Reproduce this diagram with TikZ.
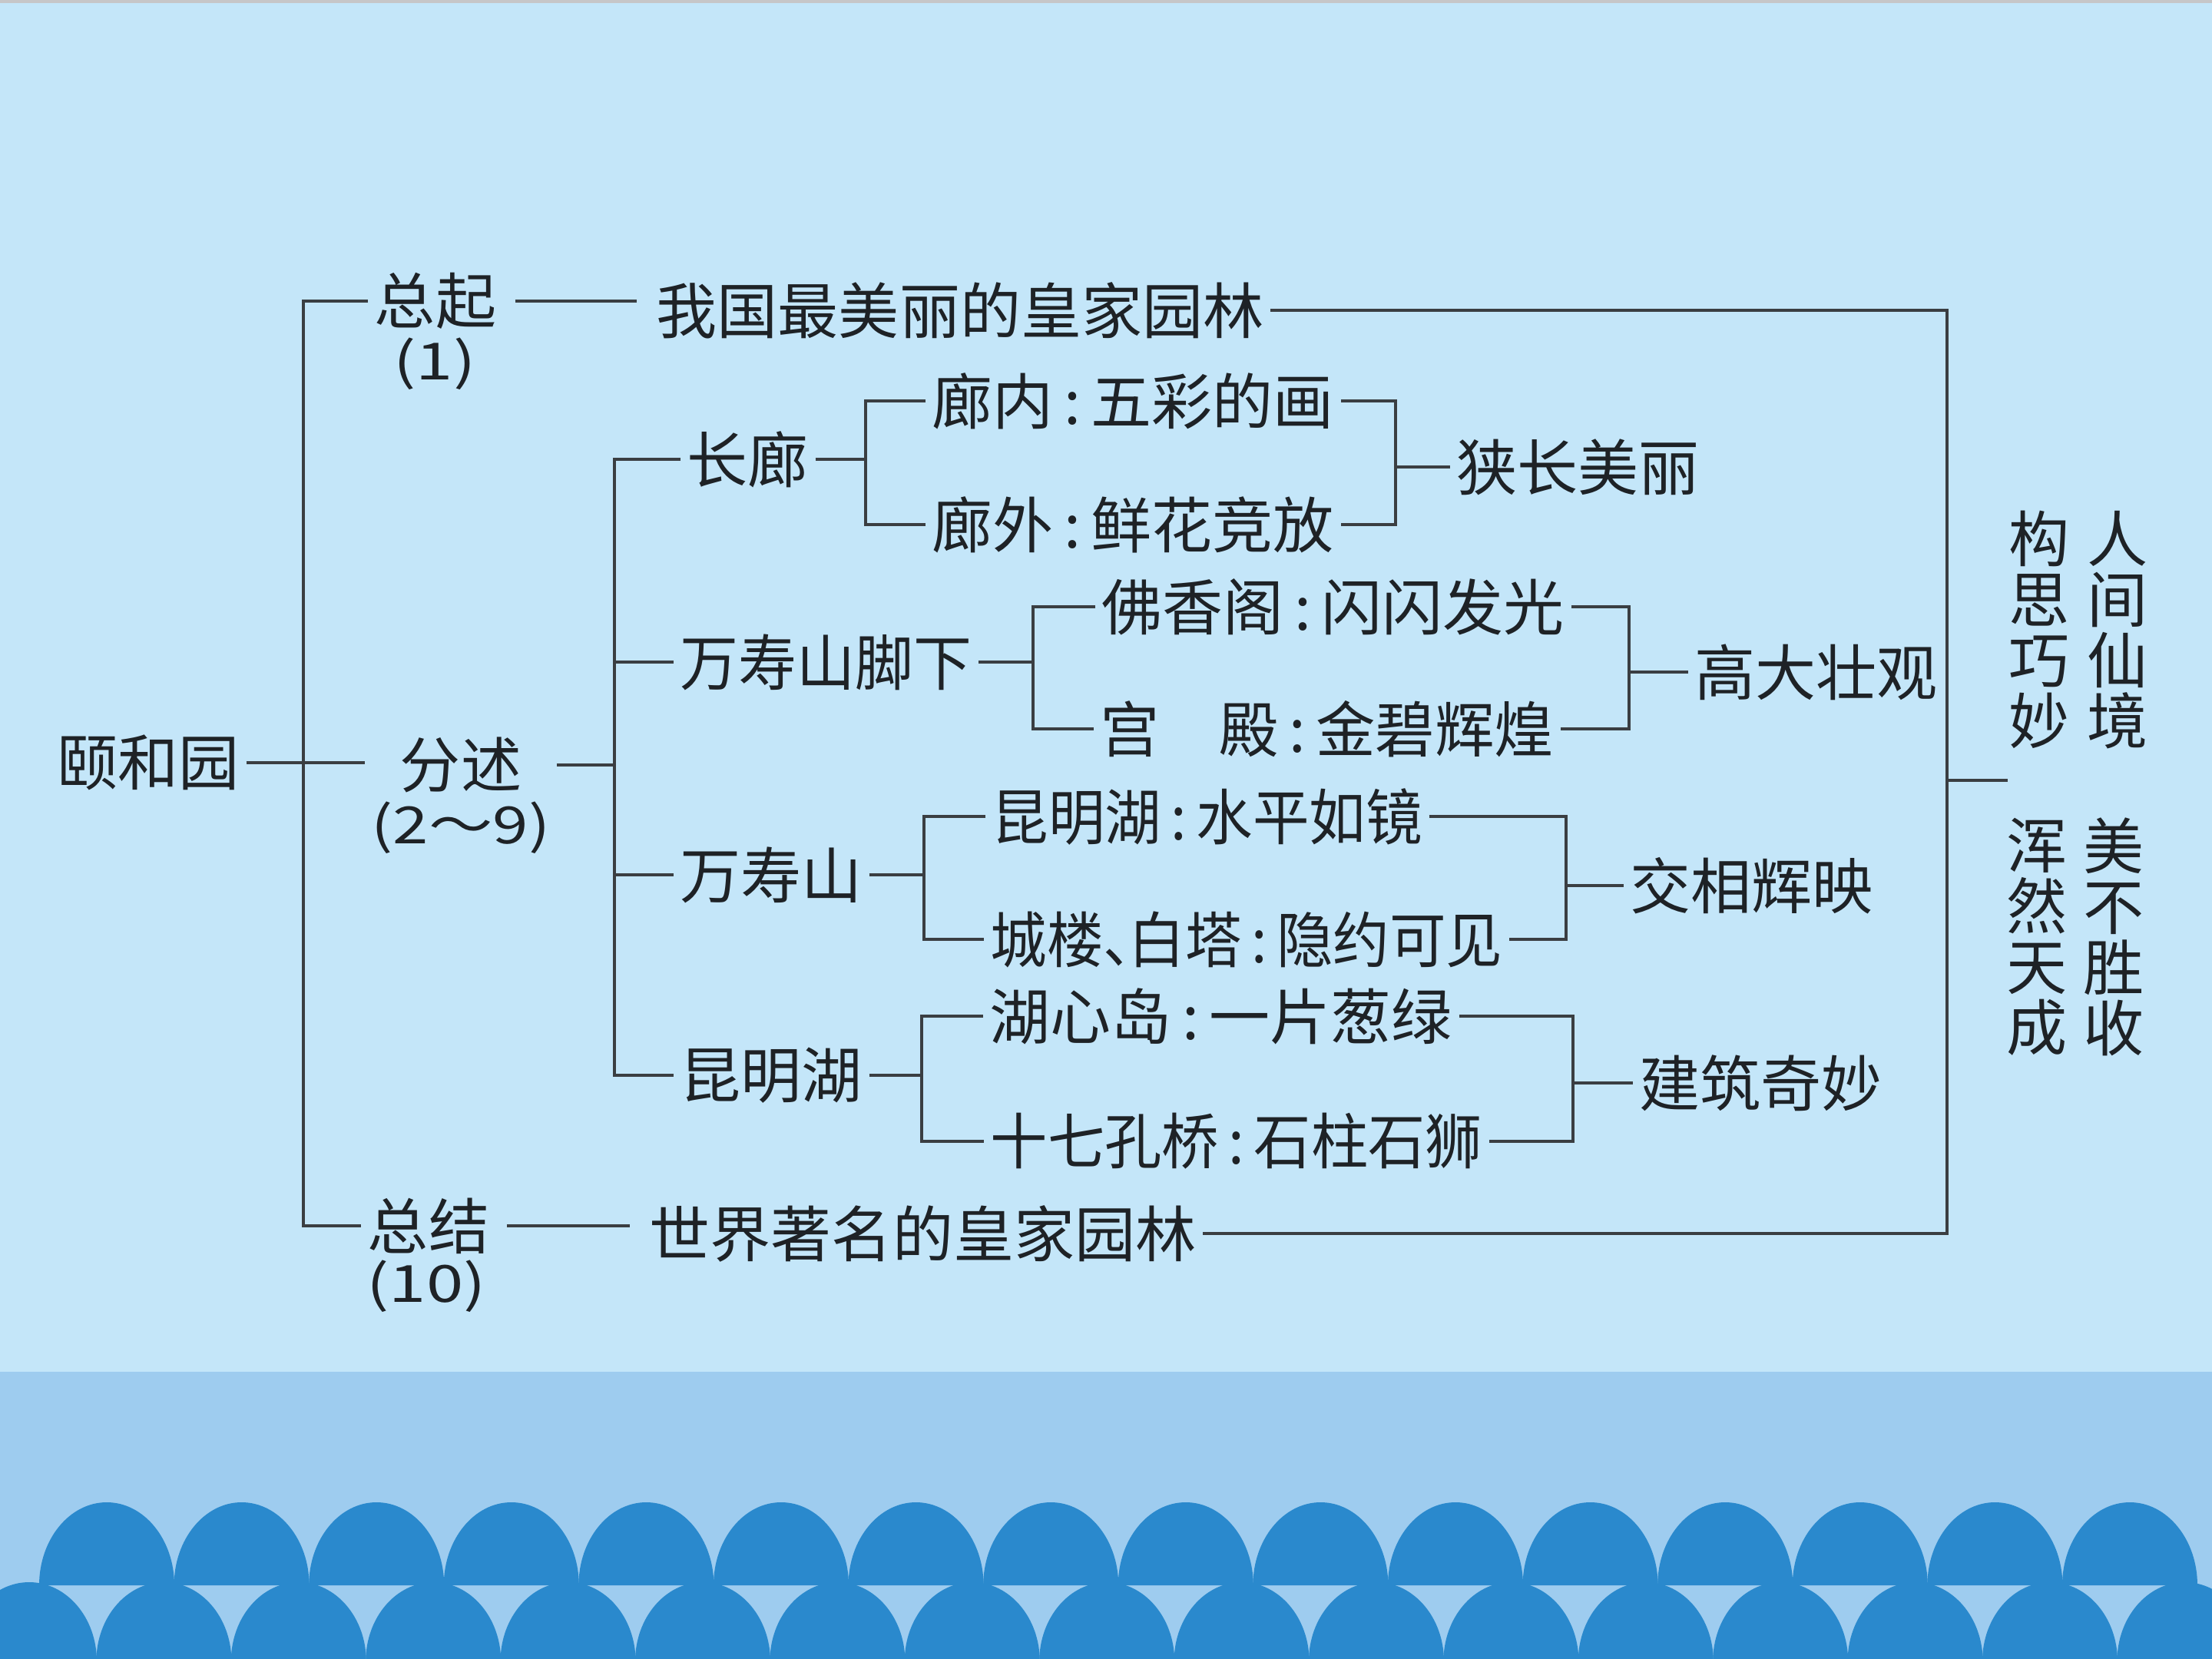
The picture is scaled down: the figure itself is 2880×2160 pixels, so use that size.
\documentclass[tikz,border=0pt]{standalone}
\usepackage{fontspec}
\usepackage{graphicx}
\newfontfamily\cjk{Noto Sans CJK SC}
\usetikzlibrary{calc}
\definecolor{skybg}{HTML}{C4E6F9}
\definecolor{skyband}{HTML}{9ECCEF}
\definecolor{sea}{HTML}{2A89CD}
\definecolor{rim}{HTML}{C6C6C8}
\definecolor{ink}{HTML}{1E2226}
\definecolor{wire}{HTML}{3A3E42}
\newcommand\mh{\hspace{0.17em}:\hspace{0.17em}}
\newcommand\narrowtext[2]{\scalebox{#1}[1]{#2}}
\tikzset{
  txt/.style={font=\cjk\fontsize{22.5}{22.5}\selectfont, text=ink,
    inner xsep=0.8mm, inner ysep=0pt, anchor=west},
  sub/.style={txt, anchor=center},
  num/.style={sub, font=\cjk\fontsize{19}{19}\selectfont},
  col/.style={txt, anchor=center, align=center},
  ln/.style={draw=wire, line width=1.1pt},
  wave/.style={fill=sea}
}

\begin{document}
\begin{tikzpicture}[x=0.1mm, y=-0.1mm]
  \useasboundingbox (0,0) rectangle (2880,2160);
  \fill[skybg] (0,0) rectangle (2880,1786);
  \fill[rim] (0,0) rectangle (2880,4);
  \fill[skyband] (0,1786) rectangle (2880,2160);
  \begin{scope}
    \clip (0,0) rectangle (2880,2160);
    \foreach \i in {0,...,15}
      \fill[wave] ({139+175.6*\i-88},2064) arc[start angle=180, end angle=360, x radius=88, y radius=108] -- cycle;
    \foreach \i in {0,...,16}
      \fill[wave] ({38+175.4*\i-88},2163) arc[start angle=180, end angle=360, x radius=88, y radius=103] -- cycle;
  \end{scope}

  % root and its three parts
  \node[txt] (root) at (66,993) {颐和园};
  \node[sub] (qi) at (567,392) {总起};
  \node[num] (qin) at (566,474) {\narrowtext{1.3}{(1)}};
  \node[sub] (shu) at (600,996) {分述};
  \node[num] (shun) at (600,1078) {\narrowtext{1.25}{(2～9)}};
  \node[sub] (jie) at (558,1596) {总结};
  \node[num] (jien) at (555,1675) {\narrowtext{1.3}{(10)}};
  \node[txt] (qitext) at (846,404) {我国最美丽的皇家园林};
  \node[txt] (jietext) at (837,1606) {世界著名的皇家园林};

  \coordinate (b1) at (395,993);
  \draw[ln] (qi.west) -| (b1) |- (jie.west);
  \draw[ln] (root.east) -- (root.east -| shun.west);
  \draw[ln, shorten <=1.6mm, shorten >=1.7mm] (qi.east) -- (qi.east -| qitext.west);
  \draw[ln, shorten <=1.4mm, shorten >=1.7mm] (jie.east) -- (jie.east -| jietext.west);

  % four scenes
  \node[txt] (lang) at (886,598) {长廊};
  \node[txt] (jiao) at (877,862) {\narrowtext{0.96}{万寿山脚下}};
  \node[txt] (shan) at (877,1139) {万寿山};
  \node[txt] (hu) at (877,1400) {昆明湖};
  \coordinate (b2) at (800,996);
  \draw[ln] (shun.east |- shu.east) -- (b2);
  \draw[ln] (lang.west) -| (b2) |- (hu.west);
  \draw[ln] (jiao.west) -- (jiao.west -| b2);
  \draw[ln] (shan.west) -- (shan.west -| b2);

  % long corridor
  \node[txt] (lnei) at (1205,522) {廊内\mh 五彩的画};
  \node[txt] (lwai) at (1205,683) {廊外\mh 鲜花竞放};
  \node[txt] (xcz) at (1888,608) {狭长美丽};
  \coordinate (b3) at (1127,598);
  \coordinate (b4) at (1817,608);
  \draw[ln] (lang.east) -- (b3);
  \draw[ln] (lnei.west) -| (b3) |- (lwai.west);
  \draw[ln] (lnei.east) -| (b4) |- (lwai.east);
  \draw[ln] (b4) -- (xcz.west);

  % foot of the hill
  \node[txt] (fxg) at (1426,790) {佛香阁\mh 闪闪发光};
  \node[txt] (gd) at (1424,949) {\narrowtext{0.98}{宫\hspace{1em}殿\mh 金碧辉煌}};
  \node[txt] (gdzg) at (2198,875) {高大壮观};
  \coordinate (b5) at (1345,862);
  \coordinate (b6) at (2121,875);
  \draw[ln] (jiao.east) -- (b5);
  \draw[ln] (fxg.west) -| (b5) |- (gd.west);
  \draw[ln] (fxg.east) -| (b6) |- (gd.east);
  \draw[ln] (b6) -- (gdzg.west);

  % on the hill
  \node[txt] (kmsp) at (1283,1063) {\narrowtext{0.93}{昆明湖\mh 水平如镜}};
  \node[txt] (cbyy) at (1281,1223) {\narrowtext{0.93}{城楼、\hspace{-0.55em}白塔\mh 隐约可见}};
  \node[txt] (jxhy) at (2114,1153) {交相辉映};
  \coordinate (b7) at (1203,1139);
  \coordinate (b8) at (2039,1153);
  \draw[ln] (shan.east) -- (b7);
  \draw[ln] (kmsp.west) -| (b7) |- (cbyy.west);
  \draw[ln] (kmsp.east) -| (b8) |- (cbyy.east);
  \draw[ln] (b8) -- (jxhy.west);

  % the lake
  \node[txt] (hxd) at (1280,1323) {湖心岛\mh 一片葱绿};
  \node[txt] (sqk) at (1281,1486) {\narrowtext{0.94}{十七孔桥\mh 石柱石狮}};
  \node[txt] (jzqm) at (2126,1410) {建筑奇妙};
  \coordinate (b9) at (1200,1400);
  \coordinate (b10) at (2048,1410);
  \draw[ln] (hu.east) -- (b9);
  \draw[ln] (hxd.west) -| (b9) |- (sqk.west);
  \draw[ln] (hxd.east) -| (b10) |- (sqk.east);
  \draw[ln] (b10) -- (jzqm.west);

  % summary on the right
  \coordinate (b11) at (2535,1016);
  \coordinate (tip) at (2614,1016);
  \draw[ln] (qitext.east) -| (b11) |- (jietext.east);
  \draw[ln] (b11) -- (tip);
  \node[col] (gs) at (2655,820) {构\\思\\巧\\妙};
  \node[col] (rj) at (2757,820) {人\\间\\仙\\境};
  \node[col] (hr) at (2652,1220) {浑\\然\\天\\成};
  \node[col] (mb) at (2752,1220) {美\\不\\胜\\收};
\end{tikzpicture}
\end{document}
